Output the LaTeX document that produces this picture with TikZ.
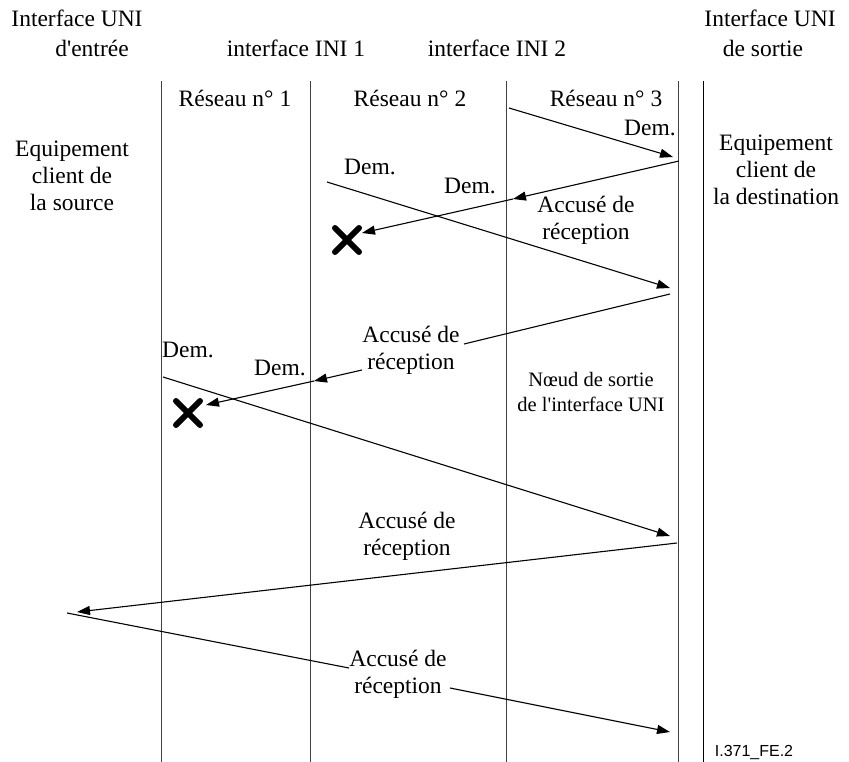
\documentclass[tikz,border=0pt]{standalone}
\usepackage{fontspec}
\setmainfont{Liberation Serif}
\newfontfamily\figsans{Liberation Sans}
\usetikzlibrary{arrows.meta}

\begin{document}
\begin{tikzpicture}[x=1pt,y=-1pt,>={Triangle[length=13pt,width=9pt]},
  lane/.style={draw=black!75,line width=0.9pt},
  msg/.style={line width=1.1pt},
  txt/.style={font=\fontsize{23.5}{27}\selectfont,align=center,inner sep=0pt},
  note/.style={font=\fontsize{20.5}{25}\selectfont,align=center,inner sep=0pt},
  lost/.style={line width=6pt,line cap=round}]
  \useasboundingbox (0,0) rectangle (849,762);

  % interfaces
  \coordinate (A1) at (161,81);  \coordinate (A2) at (161,762);
  \coordinate (B1) at (310,81);  \coordinate (B2) at (310,762);
  \coordinate (C1) at (506,81);  \coordinate (C2) at (506,762);
  \coordinate (D1) at (678,81);  \coordinate (D2) at (678,762);
  \coordinate (E1) at (703,81);  \coordinate (E2) at (703,762);
  \draw[lane] (A1) -- (A2) (B1) -- (B2) (C1) -- (C2) (D1) -- (D2);
  \draw[line width=1pt] (E1) -- (E2);

  \node[txt] (uniIn)  at (77,18)  {Interface UNI};
  \node[txt] (entree) at (92,48)  {d\textquotesingle entrée};
  \node[txt] (ini1)   at (296,48) {interface INI 1};
  \node[txt] (ini2)   at (497,48) {interface INI 2};
  \node[txt] (uniOut) at (770,18) {Interface UNI};
  \node[txt] (sortie) at (763,48) {de sortie};
  \node[txt] (net1) at (235,98) {Réseau n° 1};
  \node[txt] (net2) at (410,98) {Réseau n° 2};
  \node[txt] (net3) at (606,98) {Réseau n° 3};
  \node[txt] (src) at (72,176) {Equipement\\client de\\la source};
  \node[txt] (dst) at (776,170) {Equipement\\client de\\la destination};
  \node[note] (exit) at (591,392) {Nœud de sortie\\de l\textquotesingle interface UNI};
  \node[font=\figsans\fontsize{16}{18}\selectfont,inner sep=0pt] (ref) at (754,752) {I.371\_FE.2};

  % demande 1 (reseau 3)
  \coordinate (d1s) at (509,108);  \coordinate (d1e) at (673,157);
  \draw[msg,->] (d1s) -- (d1e);
  \node[txt] (dem1) at (650,128) {Dem.};

  % accuse 1, perdu
  \coordinate (k1s) at (679,161);  \coordinate (k1m) at (513,199);
  \coordinate (k1e) at (362,233);
  \draw[msg,->] (k1s) -- (k1m);
  \draw[msg,->] (k1m) -- (k1e);
  \node[txt] (dem2) at (470,186) {Dem.};
  \node[txt] (ack1) at (586,220) {Accusé de\\réception};
  \coordinate (x1) at (347,240);
  \draw[lost] ([shift={(-12,-12)}]x1) -- ([shift={(12,12)}]x1)
              ([shift={(-12,12)}]x1) -- ([shift={(12,-12)}]x1);

  % demande 2 (reseau 2)
  \coordinate (d2s) at (327,182);  \coordinate (d2e) at (670,288);
  \draw[msg,->] (d2s) -- (d2e);
  \node[txt] (dem3) at (370,167) {Dem.};

  % accuse 2, perdu
  \node[txt] (ack2) at (411,350) {Accusé de\\réception};
  \coordinate (k2s) at (670,294);  \coordinate (k2a) at (464,344);
  \coordinate (k2b) at (362,370);  \coordinate (k2m) at (314,381);
  \coordinate (k2e) at (206,405);
  \draw[msg] (k2s) -- (k2a);
  \draw[msg,->] (k2b) -- (k2m);
  \draw[msg,->] (k2m) -- (k2e);
  \node[txt] (dem4) at (280,368) {Dem.};
  \coordinate (x2) at (188,413);
  \draw[lost] ([shift={(-12,-12)}]x2) -- ([shift={(12,12)}]x2)
              ([shift={(-12,12)}]x2) -- ([shift={(12,-12)}]x2);

  % demande 3 (reseau 1)
  \coordinate (d3s) at (163,377);  \coordinate (d3e) at (670,536);
  \draw[msg,->] (d3s) -- (d3e);
  \node[txt] (dem5) at (188,350) {Dem.};

  % accuse 3 vers la source
  \coordinate (k3s) at (677,543);  \coordinate (k3e) at (77,612);
  \draw[msg,->] (k3s) -- (k3e);
  \node[txt] (ack3) at (407,536) {Accusé de\\réception};

  % accuse vers la destination
  \node[txt] (ack4) at (398,674) {Accusé de\\réception};
  \coordinate (k4s) at (67,613);  \coordinate (k4a) at (349,668);
  \coordinate (k4b) at (450,688); \coordinate (k4e) at (670,732);
  \draw[msg] (k4s) -- (k4a);
  \draw[msg,->] (k4b) -- (k4e);
\end{tikzpicture}
\end{document}
